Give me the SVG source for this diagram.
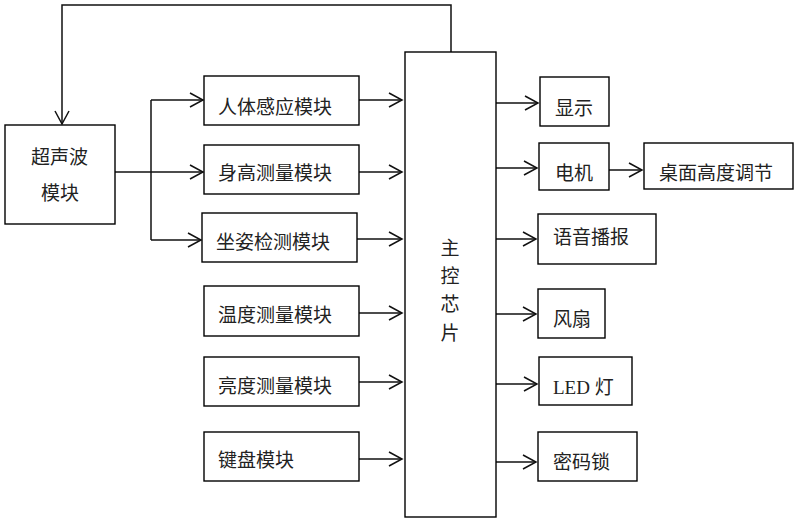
<svg xmlns="http://www.w3.org/2000/svg" width="797" height="525" viewBox="0 0 797 525">
<style>
.box{fill:#fff;stroke:#000;stroke-width:1.4}
.ln{fill:none;stroke:#111;stroke-width:1.5}
.arr{marker-end:url(#ah)}
text{font-family:"Liberation Serif","Noto Sans CJK SC",serif;font-size:19px;fill:#222}
</style>
<defs>
<marker id="ah" viewBox="-14 -9 16 18" refX="0" refY="0" markerWidth="16" markerHeight="18" markerUnits="userSpaceOnUse" orient="auto">
<path d="M-13,-7 L0,0 L-13,7" fill="none" stroke="#111" stroke-width="1.5"/>
</marker>
</defs>
<g id="connectors">
<path class="ln arr" d="M451,52 L451,5 L62,5 L62,124"/>
<path class="ln arr" d="M115,172 L203,172"/>
<path class="ln" d="M151,100 L151,240"/>
<path class="ln arr" d="M151,100 L203,100"/>
<path class="ln arr" d="M151,240 L201,240"/>
<path class="ln arr" d="M359,100 L402,100"/>
<path class="ln arr" d="M359,172 L402,172"/>
<path class="ln arr" d="M357,239 L402,239"/>
<path class="ln arr" d="M359,313 L402,313"/>
<path class="ln arr" d="M359,382 L402,382"/>
<path class="ln arr" d="M359,459 L402,459"/>
<path class="ln arr" d="M496,103 L538,103"/>
<path class="ln arr" d="M496,168 L537,168"/>
<path class="ln arr" d="M609,170 L642,170"/>
<path class="ln arr" d="M496,239 L536,239"/>
<path class="ln arr" d="M496,314 L536,314"/>
<path class="ln arr" d="M496,384 L537,384"/>
<path class="ln arr" d="M496,462 L536,462"/>
</g>
<g id="ultrasonic"><rect class="box" x="5" y="125" width="110" height="99"/><text x="31" y="164">超声波</text><text x="41" y="200">模块</text></g>
<g id="human"><rect class="box" x="204" y="76" width="155" height="49"/><text x="218" y="114">人体感应模块</text></g>
<g id="height"><rect class="box" x="204" y="145" width="155" height="49"/><text x="218" y="180">身高测量模块</text></g>
<g id="posture"><rect class="box" x="202" y="213" width="155" height="49"/><text x="216" y="249">坐姿检测模块</text></g>
<g id="temp"><rect class="box" x="204" y="286" width="155" height="50"/><text x="218" y="322">温度测量模块</text></g>
<g id="light"><rect class="box" x="204" y="357" width="155" height="49"/><text x="218" y="393">亮度测量模块</text></g>
<g id="keyboard"><rect class="box" x="204" y="432" width="155" height="49"/><text x="218" y="467">键盘模块</text></g>
<g id="chip"><rect class="box" x="405" y="52" width="91" height="465"/>
<text x="450" y="255" text-anchor="middle">主</text>
<text x="450" y="283" text-anchor="middle">控</text>
<text x="450" y="311" text-anchor="middle">芯</text>
<text x="450" y="340" text-anchor="middle">片</text></g>
<g id="display"><rect class="box" x="540" y="77" width="69" height="49"/><text x="555" y="115">显示</text></g>
<g id="motor"><rect class="box" x="539" y="143" width="70" height="47"/><text x="555" y="180">电机</text></g>
<g id="desk"><rect class="box" x="644" y="143" width="149" height="46"/><text x="659" y="180">桌面高度调节</text></g>
<g id="voice"><rect class="box" x="538" y="214" width="118" height="50"/><text x="553" y="244">语音播报</text></g>
<g id="fan"><rect class="box" x="538" y="289" width="67" height="49"/><text x="553" y="326">风扇</text></g>
<g id="led"><rect class="box" x="539" y="357" width="93" height="48"/><text x="553" y="394">LED 灯</text></g>
<g id="lock"><rect class="box" x="538" y="432" width="99" height="49"/><text x="553" y="469">密码锁</text></g>
</svg>
